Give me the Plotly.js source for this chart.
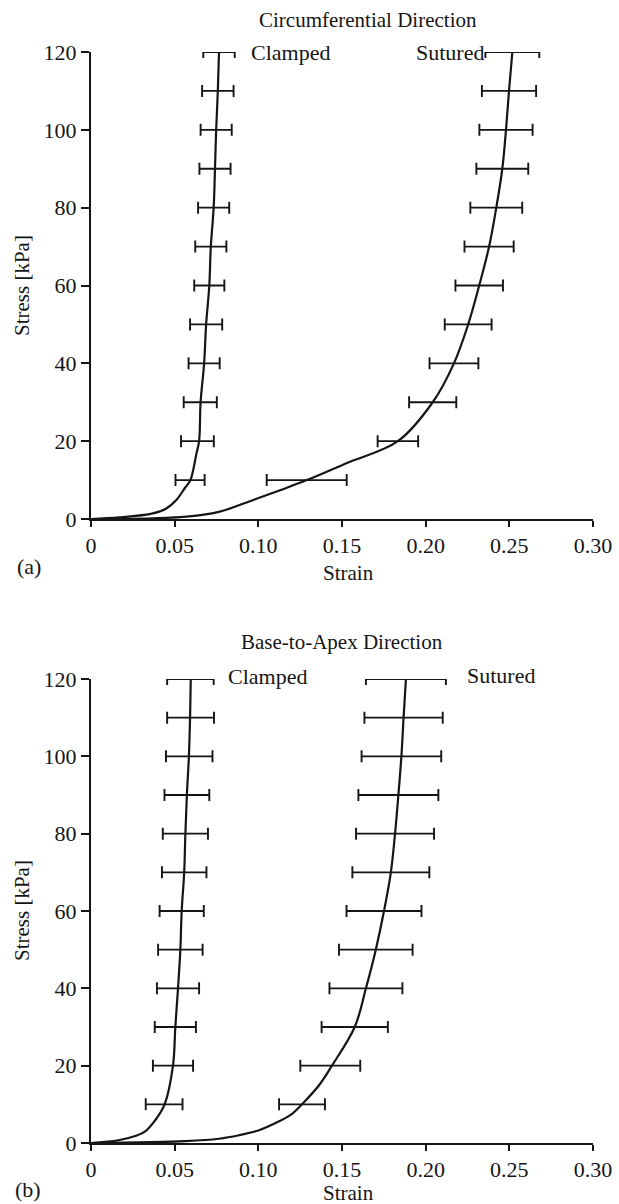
<!DOCTYPE html>
<html><head><meta charset="utf-8">
<script src="https://cdn.plot.ly/plotly-3.0.1.min.js"></script>
<style>html,body{margin:0;padding:0;background:#fff}#chart{width:619px;height:1204px}</style>
</head><body><div id="chart"></div><script>
// Stress levels at which error bars are shown (kPa)
const stressLevels = [10,20,30,40,50,60,70,80,90,100,110,120];

// (a) Circumferential direction: mean strain and SD at each stress level
const circClampedMean = [0.0592,0.0636,0.0653,0.0676,0.0688,0.0707,0.0716,0.0733,0.0741,0.0748,0.0758,0.0765];
const circClampedErr  = [0.0087,0.0098,0.0099,0.0093,0.0096,0.0090,0.0093,0.0093,0.0093,0.0093,0.0094,0.0094];
const circSuturedMean = [0.1289,0.1834,0.2042,0.2169,0.2254,0.2320,0.2379,0.2422,0.2458,0.2480,0.2498,0.2518];
const circSuturedErr  = [0.0239,0.0121,0.0141,0.0146,0.0140,0.0142,0.0147,0.0155,0.0155,0.0159,0.0162,0.0161];
// (a) fitted curves
const circClampedCurveStrain = [0, 0.017, 0.037, 0.045, 0.051, 0.056, 0.0594, 0.063, 0.0646, 0.0655, 0.0676, 0.0688, 0.0707, 0.0716, 0.0733, 0.0741, 0.0748, 0.0758, 0.0765];
const circClampedCurveStress = [0, 0.4, 1.45, 2.7, 4.9, 7.9, 10, 16.8, 20, 30, 40, 50, 60, 70, 80, 90, 100, 110, 120];
const circSuturedCurveStrain = [0, 0.037, 0.057, 0.077, 0.097, 0.113, 0.129, 0.153, 0.1834, 0.2042, 0.2169, 0.2254, 0.2320, 0.2379, 0.2422, 0.2458, 0.2480, 0.2498, 0.2518];
const circSuturedCurveStress = [0, 0.17, 0.6, 1.9, 4.9, 7.4, 10, 14.4, 20, 30, 40, 50, 60, 70, 80, 90, 100, 110, 120];

// (b) Base-to-apex direction
const baseClampedMean = [0.0437,0.0490,0.0504,0.0520,0.0534,0.0542,0.0557,0.0564,0.0573,0.0587,0.0595,0.0594];
const baseClampedErr  = [0.0110,0.0120,0.0123,0.0126,0.0133,0.0132,0.0133,0.0135,0.0134,0.0139,0.0140,0.0139];
const baseSuturedMean = [0.1261,0.1430,0.1576,0.1643,0.1702,0.1751,0.1792,0.1817,0.1837,0.1855,0.1868,0.1882];
const baseSuturedErr  = [0.0137,0.0179,0.0198,0.0218,0.0220,0.0224,0.0230,0.0233,0.0239,0.0238,0.0234,0.0239];
const baseClampedCurveStrain = [0, 0.0164, 0.0264, 0.0324, 0.0384, 0.0440, 0.0490, 0.0504, 0.0520, 0.0534, 0.0542, 0.0557, 0.0564, 0.0573, 0.0585, 0.0592, 0.0596];
const baseClampedCurveStress = [0, 0.7, 1.8, 3.0, 5.9, 10, 20, 30, 40, 50, 60, 70, 80, 90, 100, 110, 120];
const baseSuturedCurveStrain = [0, 0.0564, 0.0764, 0.0884, 0.1004, 0.1124, 0.1204, 0.1261, 0.1364, 0.1440, 0.1576, 0.1643, 0.1702, 0.1751, 0.1792, 0.1817, 0.1837, 0.1855, 0.1868, 0.1882];
const baseSuturedCurveStress = [0, 0.5, 1.1, 2.0, 3.3, 5.6, 7.6, 10, 15, 20, 30, 40, 50, 60, 70, 80, 90, 100, 110, 120];

// Axis ticks
const xTickVals = [0, 0.05, 0.10, 0.15, 0.20, 0.25, 0.30];
const xTickText = ['0', '0.05', '0.10', '0.15', '0.20', '0.25', '0.30'];
const yTickVals = [0, 20, 40, 60, 80, 100, 120];

const FONT = 'Liberation Serif, Times New Roman, serif';
const INK = '#151515';
const FS = 22;

function curve(xs, ys, xa, ya) {
  return {
    type: 'scatter', mode: 'lines', x: xs, y: ys, xaxis: xa, yaxis: ya,
    line: {color: INK, width: 2.2, shape: 'spline', smoothing: 1.0},
    cliponaxis: false, hoverinfo: 'skip', showlegend: false
  };
}
function bars(meanX, err, xa, ya) {
  return {
    type: 'scatter', mode: 'markers',
    x: meanX, y: stressLevels, xaxis: xa, yaxis: ya,
    marker: {size: 1, color: 'rgba(0,0,0,0)'},
    error_x: {type: 'data', array: err, visible: true, color: INK, thickness: 1.9, width: 6},
    cliponaxis: false, hoverinfo: 'skip', showlegend: false
  };
}

const data = [
  curve(circClampedCurveStrain, circClampedCurveStress, 'x', 'y'),
  curve(circSuturedCurveStrain, circSuturedCurveStress, 'x', 'y'),
  bars(circClampedMean, circClampedErr, 'x', 'y'),
  bars(circSuturedMean, circSuturedErr, 'x', 'y'),
  curve(baseClampedCurveStrain, baseClampedCurveStress, 'x2', 'y2'),
  curve(baseSuturedCurveStrain, baseSuturedCurveStress, 'x2', 'y2'),
  bars(baseClampedMean, baseClampedErr, 'x2', 'y2'),
  bars(baseSuturedMean, baseSuturedErr, 'x2', 'y2')
];

const W = 619, H = 1204, L = 91, R = 26, T = 52, B = 61;
const px = v => (v - L) / (W - L - R);
const py = v => (H - B - v) / (H - T - B);

function xAxis(anchor) {
  return {
    range: [0, 0.30], anchor: anchor, showgrid: false, zeroline: false,
    showline: true, linecolor: INK, linewidth: 2,
    ticks: 'outside', ticklen: 6, tickwidth: 2, tickcolor: INK,
    tickvals: xTickVals, ticktext: xTickText,
    tickfont: {family: FONT, size: FS, color: INK}, fixedrange: true
  };
}
function yAxis(domain, anchor) {
  return {
    range: [0, 120], domain: domain, anchor: anchor, showgrid: false, zeroline: false,
    showline: true, linecolor: INK, linewidth: 2,
    ticks: 'outside', ticklen: 8, tickwidth: 2, tickcolor: INK,
    tickvals: yTickVals, tickfont: {family: FONT, size: FS, color: INK}, fixedrange: true
  };
}

function ann(text, x, y, xanchor, extra) {
  return Object.assign({
    text: text, xref: 'paper', yref: 'paper', x: px(x), y: py(y),
    xanchor: xanchor, yanchor: 'middle', showarrow: false,
    font: {family: FONT, size: FS, color: INK}
  }, extra || {});
}

const layout = {
  width: W, height: H,
  margin: {l: L, r: R, t: T, b: B},
  paper_bgcolor: '#fff', plot_bgcolor: '#fff',
  xaxis: xAxis('y'),
  yaxis: yAxis([py(519), 1], 'x'),
  xaxis2: xAxis('y2'),
  yaxis2: yAxis([0, py(679)], 'x2'),
  showlegend: false,
  annotations: [
    ann('Circumferential Direction', 368, 20, 'center', {font: {family: FONT, size: 21, color: INK}}),
    ann('Clamped', 249, 52, 'left'),
    ann('Sutured', 486, 52, 'right'),
    ann('Strain', 348, 573, 'center', {font: {family: FONT, size: 21, color: INK}}),
    ann('(a)', 15, 566, 'left'),
    ann('Stress [kPa]', 22, 286, 'center', {textangle: -90, font: {family: FONT, size: 21, color: INK}}),
    ann('Base-to-Apex Direction', 342, 642, 'center', {font: {family: FONT, size: 21, color: INK}}),
    ann('Clamped', 226, 676, 'left'),
    ann('Sutured', 465, 675, 'left'),
    ann('Strain', 348, 1193, 'center', {font: {family: FONT, size: 21, color: INK}}),
    ann('(b)', 13, 1189, 'left'),
    ann('Stress [kPa]', 22, 911, 'center', {textangle: -90, font: {family: FONT, size: 21, color: INK}})
  ]
};

Plotly.newPlot('chart', data, layout, {displayModeBar: false, staticPlot: true});
</script></body></html>
